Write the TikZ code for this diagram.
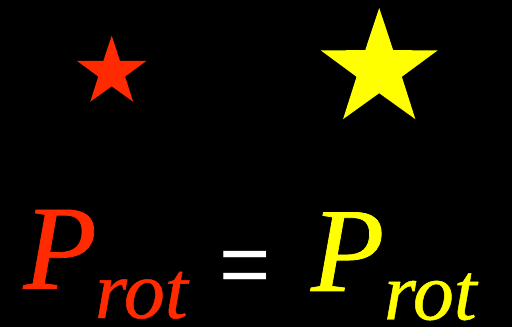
\documentclass[tikz,border=0pt]{standalone}
\usepackage{fontspec}
\setmainfont{Liberation Serif}
\newfontfamily\italfont[FakeBold=0.6]{Liberation Serif Italic}
\newfontfamily\eqfont{Liberation Sans}
\definecolor{starred}{HTML}{FF2A00}
\definecolor{staryellow}{HTML}{FFFF00}
\begin{document}
\begin{tikzpicture}[x=1pt,y=1pt,
  bigP/.style={inner sep=0pt, outer sep=0pt, anchor=base west, font=\italfont\fontsize{120}{120}\selectfont},
  subrot/.style={inner sep=0pt, outer sep=0pt, anchor=base west, font=\italfont\fontsize{82}{82}\selectfont},
  eqsign/.style={inner sep=0pt, outer sep=0pt, anchor=base west, text=white, font=\fontsize{88}{88}\selectfont\eqfont}]
\fill[black] (0,0) rectangle (512,327);
\useasboundingbox (0,0) rectangle (512,327);
% red star
\fill[starred, shift={(111.7,254.8)}]
  (90:36.5) -- (126:14.1) -- (162:36.5) -- (198:14.1) -- (234:36.5) -- (270:14.1)
  -- (306:36.5) -- (342:14.1) -- (18:36.5) -- (54:14.1) -- cycle;
% yellow star
\fill[staryellow, shift={(379.2,257.6)}]
  (90:61.5) -- (126:23.8) -- (162:61.5) -- (198:23.8) -- (234:61.5) -- (270:23.8)
  -- (306:61.5) -- (342:23.8) -- (18:61.5) -- (54:23.8) -- cycle;
% text
\node[bigP, text=starred] (p1) at (23.5,38.5) {P};
\node[subrot, text=starred] (r1) at (95,9) {rot};
\node[eqsign] (eq) at (219,32.5) {=};
\node[bigP, text=staryellow] (p2) at (311,36) {P};
\node[subrot, text=staryellow] (r2) at (384,7.5) {rot};
\end{tikzpicture}
\end{document}
